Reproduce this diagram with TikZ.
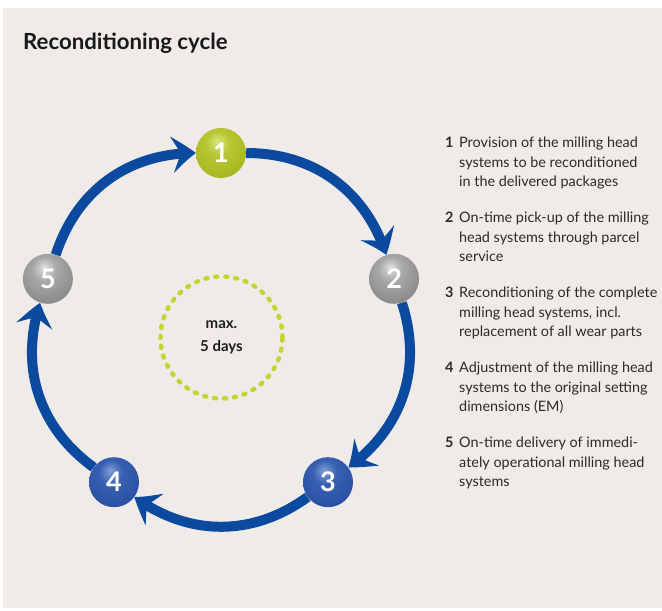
\documentclass[tikz,border=0pt]{standalone}
\usepackage{fontspec}
\setmainfont{Lato}
\usetikzlibrary{arrows.meta,bending,backgrounds}
\definecolor{bg}{HTML}{EFEBE8}
\definecolor{arrowblue}{HTML}{0B4A9E}
\definecolor{dotgreen}{HTML}{C6D432}
\definecolor{txt}{HTML}{2B2B2B}
\pgfdeclareradialshading{greenball}{\pgfpoint{-4bp}{12bp}}{rgb(0bp)=(0.85,0.90,0.50); rgb(12bp)=(0.72,0.78,0.20); rgb(34bp)=(0.64,0.71,0.10); rgb(50bp)=(0.46,0.52,0.04); rgb(62bp)=(0.40,0.45,0.03)}
\pgfdeclareradialshading{greyball}{\pgfpoint{-4bp}{12bp}}{rgb(0bp)=(0.88,0.88,0.88); rgb(12bp)=(0.66,0.66,0.66); rgb(34bp)=(0.52,0.52,0.52); rgb(50bp)=(0.30,0.30,0.30); rgb(62bp)=(0.22,0.22,0.22)}
\pgfdeclareradialshading{blueball}{\pgfpoint{-4bp}{12bp}}{rgb(0bp)=(0.50,0.62,0.84); rgb(12bp)=(0.22,0.38,0.70); rgb(34bp)=(0.15,0.30,0.62); rgb(50bp)=(0.07,0.18,0.45); rgb(62bp)=(0.05,0.14,0.38)}
\begin{document}
\begin{tikzpicture}[x=1pt,y=1pt,
  ballnode/.style={circle, minimum size=50pt, inner sep=0pt, text=white,
    font=\bfseries\fontsize{27}{27}\selectfont},
  cyc/.style={arrowblue, line width=10pt,
    -{Stealth[length=24pt,width=36pt,inset=9pt,bend]}},
  itemnum/.style={anchor=base west, inner sep=0pt,
    font=\bfseries\fontsize{14.4}{19.3}\selectfont, text=txt},
  itemtxt/.style={anchor=base west, inner sep=0pt,
    font=\fontsize{14.4}{19.3}\selectfont, text=txt},
]
\useasboundingbox (0,0) rectangle (662,611);
\begin{pgfonlayer}{background}
\fill[bg] (3,3) rectangle (662,603);
\end{pgfonlayer}
\node[anchor=base west, inner sep=0pt, font=\bfseries\fontsize{22.2}{22.2}\selectfont,
  text=black!90] (title) at (23,561) {Reconditioning cycle};
% balls
\node[ballnode, shading=greenball] (n1) at (221,458) {1};
\node[ballnode, shading=greyball] (n2) at (394.1,332.2) {2};
\node[ballnode, shading=blueball] (n3) at (328,128.8) {3};
\node[ballnode, shading=blueball] (n4) at (114,128.8) {4};
\node[ballnode, shading=greyball] (n5) at (47.9,332.2) {5};
% connectors
\begin{pgfonlayer}{background}
\draw[cyc] (n1) to[bend left=36] (n2);
\draw[cyc] (n2) to[bend left=36] (n3);
\draw[cyc] (n3) to[bend left=36] (n4);
\draw[cyc] (n4) to[bend left=36] (n5);
\draw[cyc] (n5) to[bend left=36] (n1);
\end{pgfonlayer}
% centre
\node[circle, minimum size=122pt, inner sep=0pt, draw=dotgreen, line width=4.5pt,
  line cap=round, dash pattern=on 2pt off 8pt, align=center,
  font=\bfseries\fontsize{15}{23}\selectfont, text=black!88] (days) at (221.5,273.5)
  {max.\\5 days};
% list
\node[itemnum] (k1) at (445,463) {1};
\node[itemtxt] (t1) at (459,463) {\parbox[t]{205pt}{\raggedright Provision of the milling head\\systems to be reconditioned\\in the delivered packages}};
\node[itemnum] (k2) at (445,388) {2};
\node[itemtxt] (t2) at (459,388) {\parbox[t]{205pt}{\raggedright On-time pick-up of the milling\\head systems through parcel\\service}};
\node[itemnum] (k3) at (445,313) {3};
\node[itemtxt] (t3) at (459,313) {\parbox[t]{205pt}{\raggedright Reconditioning of the complete\\milling head systems, incl.\\replacement of all wear parts}};
\node[itemnum] (k4) at (445,238) {4};
\node[itemtxt] (t4) at (459,238) {\parbox[t]{205pt}{\raggedright Adjustment of the milling head\\systems to the original setting\\dimensions (EM)}};
\node[itemnum] (k5) at (445,163) {5};
\node[itemtxt] (t5) at (459,163) {\parbox[t]{205pt}{\raggedright On-time delivery of immedi-\\ately operational milling head\\systems}};
\end{tikzpicture}
\end{document}
